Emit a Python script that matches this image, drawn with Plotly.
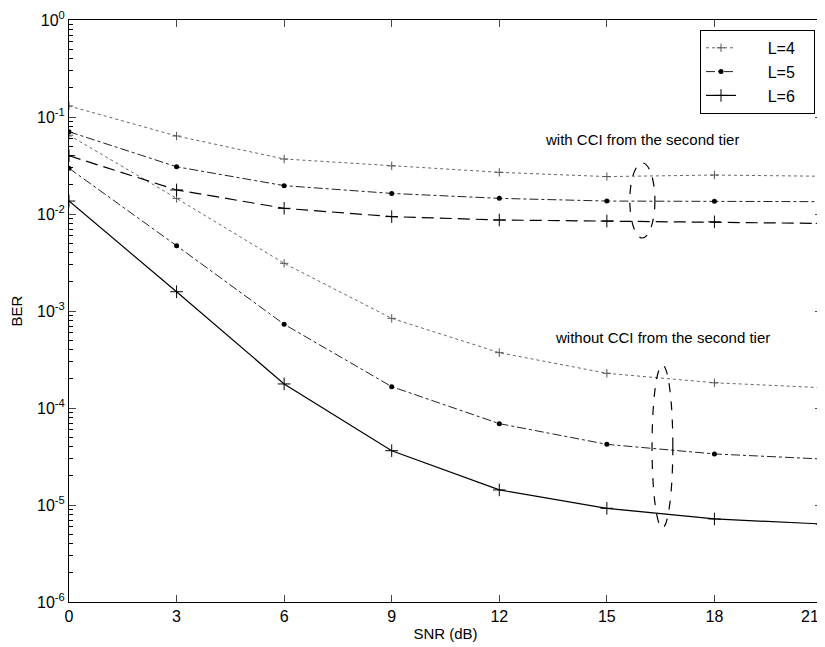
import plotly.graph_objects as go

snr = [0, 3, 6, 9, 12, 15, 18, 21]

# with CCI from the second tier
ber_l4_cci = [0.130, 0.0637, 0.0369, 0.0313, 0.0269, 0.0243, 0.0252, 0.0245]
ber_l5_cci = [0.0705, 0.0307, 0.0196, 0.0163, 0.0145, 0.0136, 0.0135, 0.0134]
ber_l6_cci = [0.0399, 0.0177, 0.01145, 0.0094, 0.00867, 0.00847, 0.0083, 0.0080]

# without CCI from the second tier
ber_l4 = [0.065, 0.0145, 0.0031, 8.4e-4, 3.72e-4, 2.28e-4, 1.82e-4, 1.62e-4]
ber_l5 = [0.0296, 0.00471, 7.3e-4, 1.66e-4, 6.9e-5, 4.22e-5, 3.36e-5, 2.98e-5]
ber_l6 = [0.0136, 1.58e-3, 1.77e-4, 3.63e-5, 1.43e-5, 9.25e-6, 7.18e-6, 6.37e-6]

y_tickvals = [1e-6, 1e-5, 1e-4, 1e-3, 1e-2, 1e-1, 1]
y_ticktext = ["10<sup>-6</sup>", "10<sup>-5</sup>", "10<sup>-4</sup>", "10<sup>-3</sup>",
              "10<sup>-2</sup>", "10<sup>-1</sup>", "10<sup>0</sup>"]
x_tickvals = [0, 3, 6, 9, 12, 15, 18, 21]
x_ticktext = ["0", "3", "6", "9", "12", "15", "18", "21"]

FONT = "Liberation Sans, Arial, sans-serif"
NB = "\u00a0"

styles = {
    "L=4": dict(line=dict(color="#666666", width=1, dash="dot"),
                marker=dict(symbol="cross-thin", size=6, line=dict(color="#555555", width=1))),
    "L=5": dict(line=dict(color="#222222", width=1, dash="dashdot"),
                marker=dict(symbol="circle", size=5, color="black")),
    "L=6": dict(line=dict(color="black", width=1.2, dash="solid"),
                marker=dict(symbol="cross-thin", size=9, line=dict(color="black", width=1))),
}

fig = go.Figure()

# curves without CCI (shown in legend)
for name, ys in [("L=4", ber_l4), ("L=5", ber_l5), ("L=6", ber_l6)]:
    st = styles[name]
    fig.add_trace(go.Scatter(x=snr, y=ys, mode="lines+markers", name=NB * 6 + name + NB * 3,
                             line=st["line"], marker=st["marker"], showlegend=True))

# curves with CCI
cci_dash = {"L=4": "dot", "L=5": "dashdot", "L=6": "12px,6px"}
for name, ys in [("L=4", ber_l4_cci), ("L=5", ber_l5_cci), ("L=6", ber_l6_cci)]:
    st = styles[name]
    ln = dict(st["line"])
    ln["dash"] = cci_dash[name]
    fig.add_trace(go.Scatter(x=snr, y=ys, mode="lines+markers", name=name,
                             line=ln, marker=st["marker"], showlegend=False))

# dashed ellipses grouping the curves
fig.add_shape(type="circle", xref="x", yref="y", x0=15.64, x1=16.34, y0=0.00566, y1=0.0336,
              line=dict(color="black", width=1.2, dash="dash"))
fig.add_shape(type="circle", xref="x", yref="y", x0=16.26, x1=16.84, y0=5.8e-6, y1=2.77e-4,
              line=dict(color="black", width=1.2, dash="dash"))

fig.add_annotation(x=15.98, y=-1.237, xref="x", yref="y", text="with CCI from the second tier",
                   showarrow=False, font=dict(family=FONT, size=15, color="black"))
fig.add_annotation(x=16.56, y=-3.278, xref="x", yref="y", text="without CCI from the second tier",
                   showarrow=False, font=dict(family=FONT, size=15, color="black"))

# last x tick label kept inside the window (it sits on the right edge)
fig.add_annotation(x=x_tickvals[-1], y=0, xref="x", yref="paper", text=x_ticktext[-1],
                   xanchor="right", yanchor="top", xshift=-1, yshift=-4, showarrow=False,
                   font=dict(family=FONT, size=16, color="black"))
x_ticktext_axis = x_ticktext[:-1] + [""]

fig.update_xaxes(range=[0, 21], tickvals=x_tickvals, ticktext=x_ticktext_axis, ticks="inside", ticklen=7,
                 showline=True, linecolor="black", linewidth=1, mirror="allticks",
                 showgrid=False, zeroline=False, ticklabeloverflow="allow", automargin=False,
                 title=dict(text="SNR (dB)", font=dict(family=FONT, size=15, color="black"), standoff=4),
                 tickfont=dict(family=FONT, size=16, color="black"))
fig.update_yaxes(type="log", range=[-6, 0], tickvals=y_tickvals, ticktext=y_ticktext,
                 ticks="inside", ticklen=7,
                 minor=dict(ticks="inside", ticklen=4, dtick="D1", tickcolor="black", showgrid=False),
                 showline=True, linecolor="black", linewidth=1, mirror="allticks",
                 showgrid=False, zeroline=False, ticklabeloverflow="allow", automargin=False,
                 title=dict(text="BER", font=dict(family=FONT, size=15, color="black"), standoff=18),
                 tickfont=dict(family=FONT, size=16, color="black"))

fig.update_layout(
    width=817, height=639,
    margin=dict(l=61, r=3, t=12, b=45),
    paper_bgcolor="white", plot_bgcolor="white",
    font=dict(family=FONT, color="black"),
    legend=dict(x=0.838, y=0.983, xanchor="left", yanchor="top",
                bordercolor="black", borderwidth=1, bgcolor="white",
                font=dict(family=FONT, size=16, color="black"),
                tracegroupgap=0),
)

fig.write_html("out.html")
